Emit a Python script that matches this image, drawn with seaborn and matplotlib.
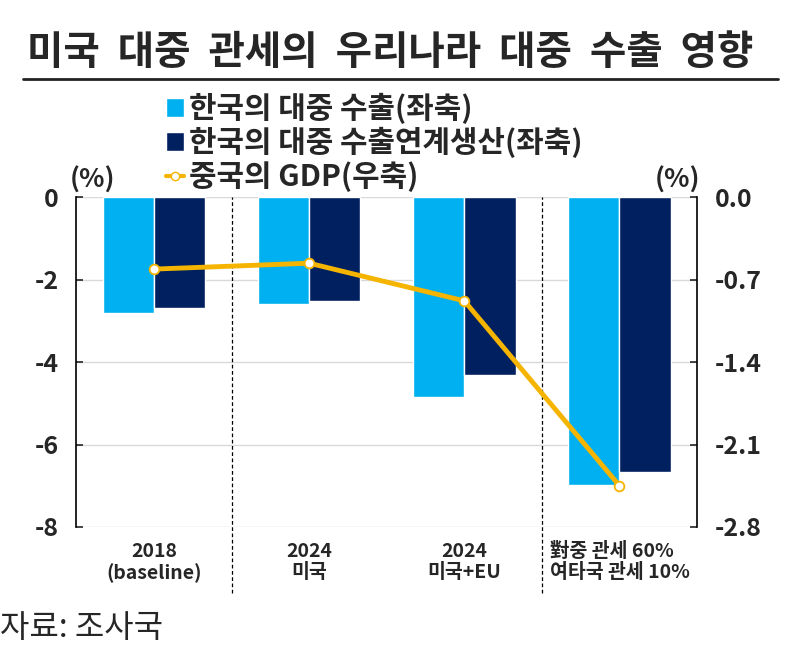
import pandas as pd
import matplotlib.pyplot as plt
import seaborn as sns
from matplotlib.patches import Patch
from matplotlib.lines import Line2D

# values
scenarios = ['2018\n(baseline)', '2024\n미국', '2024\n미국+EU', '對중 관세 60%\n여타국 관세 10%']
korea_export = [-2.82, -2.60, -4.85, -6.97]
korea_linked = [-2.69, -2.52, -4.31, -6.67]
china_gdp = [-0.61, -0.56, -0.88, -2.45]
series_names = ['한국의 대중 수출(좌축)', '한국의 대중 수출연계생산(좌축)', '중국의 GDP(우축)']
left_ticks = [0, -2, -4, -6, -8]
right_ticks = [0.0, -0.7, -1.4, -2.1, -2.8]

light_blue = '#00B0F0'
navy = '#002060'
gold = '#F5B400'

df = pd.DataFrame({
    'scenario': scenarios * 2,
    'series': [series_names[0]] * 4 + [series_names[1]] * 4,
    'value': korea_export + korea_linked,
})

sns.set_style('white')
plt.rcParams['font.family'] = ['Noto Sans CJK KR', 'DejaVu Sans']
plt.rcParams['axes.unicode_minus'] = False

fig = plt.figure(figsize=(8, 6.51), dpi=100)
ax = fig.add_axes([0.0956, 0.1905, 0.7757, 0.5065])

sns.barplot(data=df, x='scenario', y='value', hue='series',
            palette=[light_blue, navy], width=0.66, saturation=1,
            legend=False, ax=ax, zorder=2)
ax.set_xlim(-0.5, 3.5)
ax.set_ylim(-8, 0)
ax.set_yticks(left_ticks)
ax.set_yticklabels([str(t) for t in left_ticks], fontsize=18, fontweight='bold')
ax.set_xticks(range(len(scenarios)))
ax.set_xticklabels(scenarios, fontsize=14, fontweight='bold', linespacing=1.1)
for lab in ax.get_xticklabels():
    lab.set_multialignment('left' if '對' in lab.get_text() else 'center')
ax.set_xlabel('')
ax.set_ylabel('')
ax.yaxis.grid(True, color='#d9d9d9', lw=1)
ax.set_axisbelow(True)
ax.tick_params(axis='y', direction='in', length=5, width=1.2, pad=13)
ax.tick_params(axis='x', length=0, pad=11)
for s in ['top', 'bottom', 'right']:
    ax.spines[s].set_visible(False)
ax.spines['left'].set_linewidth(1.2)
ax.spines['left'].set_color('black')

# scenario separators
for xv in [0.5, 2.5]:
    ax.axvline(xv, ymin=-0.2, ymax=1, color='black', lw=0.9, ls=(0, (3, 2)),
               clip_on=False, zorder=1)

ax2 = ax.twinx()
sns.lineplot(x=list(range(len(scenarios))), y=china_gdp, ax=ax2, color=gold,
             lw=3.5, marker='o', markersize=7, markerfacecolor='white',
             markeredgecolor=gold, markeredgewidth=1.3, zorder=5)
ax2.set_ylim(-2.8, 0)
ax2.set_yticks(right_ticks)
ax2.set_yticklabels([f'{t:.1f}' for t in right_ticks], fontsize=18, fontweight='bold')
ax2.tick_params(axis='y', direction='in', length=5, width=1.2, pad=13)
for s in ['top', 'bottom', 'left']:
    ax2.spines[s].set_visible(False)
ax2.spines['right'].set_linewidth(1.2)
ax2.spines['right'].set_color('black')

# title with underline
fig.text(0.4875, 1 - 53 / 651, '미국  대중  관세의  우리나라  대중  수출  영향',
         ha='center', va='center', fontsize=28.5, fontweight='bold')
fig.add_artist(Line2D([0.029, 0.9725], [1 - 79 / 651, 1 - 79 / 651],
                      color='#222222', lw=2))

handles = [Patch(facecolor=light_blue), Patch(facecolor=navy),
           Line2D([], [], color=gold, lw=3, marker='o', markersize=6,
                  markerfacecolor='white', markeredgecolor=gold)]
fig.legend(handles, series_names, loc='upper left', bbox_to_anchor=(0.207, 1 - 93 / 651),
           frameon=False, prop={'size': 21.5, 'weight': 'bold'}, handlelength=0.6,
           handleheight=0.6, handletextpad=0.2, labelspacing=0.1,
           borderpad=0, borderaxespad=0)

fig.text(0.116, 1 - 180 / 651, '(%)', ha='center', va='center', fontsize=19, fontweight='bold')
fig.text(0.847, 1 - 180 / 651, '(%)', ha='center', va='center', fontsize=19, fontweight='bold')
fig.text(0.0, 1 - 628 / 651, '자료: 조사국', ha='left', va='center', fontsize=23)

plt.savefig('out.png', dpi=100)
